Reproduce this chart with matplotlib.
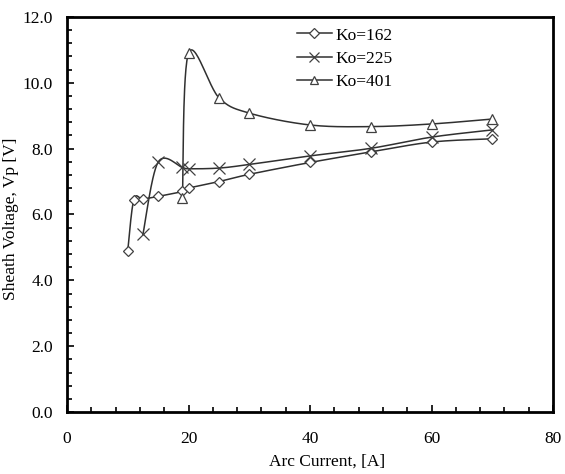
import numpy as np
import matplotlib
matplotlib.use("Agg")
import matplotlib.pyplot as plt
from matplotlib.ticker import MultipleLocator, FormatStrFormatter

plt.rcParams['font.family'] = ['Liberation Serif', 'DejaVu Serif']

# arc current [A] and sheath voltage [V] for each Ko
i_162 = [10, 11, 12.5, 15, 19, 20, 25, 30, 40, 50, 60, 70]
v_162 = [4.9, 6.45, 6.47, 6.55, 6.7, 6.8, 7.0, 7.22, 7.58, 7.9, 8.2, 8.3]

i_225 = [12.5, 15, 19, 20, 25, 30, 40, 50, 60, 70]
v_225 = [5.4, 7.59, 7.43, 7.39, 7.41, 7.52, 7.78, 8.01, 8.35, 8.57]

i_401 = [19, 20, 25, 30, 40, 50, 60, 70]
v_401 = [6.5, 10.9, 9.55, 9.08, 8.72, 8.67, 8.75, 8.9]

labels = ['Ko=162', 'Ko=225', 'Ko=401']
markers = ['D', 'x', '^']
msizes = [5.5, 8, 6.5]

XMAX, YMAX = 80, 12.0
# pixels per data unit, so the smoothing follows the drawn shape
SX, SY = 6.08, 32.9


def smooth(x, y, n=30):
    # cubic bezier through the points with catmull-rom style control points
    p = np.column_stack([np.array(x) * SX, np.array(y) * SY])
    pts = np.vstack([p[0], p, p[-1]])
    out = []
    t = np.linspace(0, 1, n)[:, None]
    for k in range(1, len(pts) - 2):
        p0, p1, p2, p3 = pts[k - 1], pts[k], pts[k + 1], pts[k + 2]
        c1 = p1 + (p2 - p0) / 6
        c2 = p2 - (p3 - p1) / 6
        seg = ((1 - t) ** 3) * p1 + 3 * ((1 - t) ** 2) * t * c1 \
            + 3 * (1 - t) * t ** 2 * c2 + t ** 3 * p2
        out.append(seg)
    out = np.vstack(out)
    return out[:, 0] / SX, out[:, 1] / SY


fig = plt.figure(figsize=(5.65, 4.74), dpi=100)
ax = fig.add_axes([67 / 565, 62 / 474, 486 / 565, 395 / 474])

series = [(i_162, v_162), (i_225, v_225), (i_401, v_401)]
for (x, y), lab, m, ms in zip(series, labels, markers, msizes):
    sx, sy = smooth(x, y)
    ax.plot(sx, sy, color='#303030', lw=1.1, zorder=2)
    ax.plot(x, y, linestyle='none', marker=m, ms=ms, mfc='white',
            mec='#404040', mew=0.9, zorder=3)
    ax.plot([], [], color='#303030', lw=1.1, marker=m, ms=ms * 0.85,
            mfc='white', mec='#404040', mew=0.9, label=lab)

ax.set_xlim(0, XMAX)
ax.set_ylim(0, YMAX)
ax.xaxis.set_major_locator(MultipleLocator(20))
ax.xaxis.set_minor_locator(MultipleLocator(4))
ax.yaxis.set_major_locator(MultipleLocator(2))
ax.yaxis.set_minor_locator(MultipleLocator(0.4))
ax.yaxis.set_major_formatter(FormatStrFormatter('%.1f'))
ax.tick_params(which='both', direction='in', labelsize=12.5, width=1.2,
               colors='black')
ax.tick_params(which='major', length=5)
ax.tick_params(which='minor', length=3.5)
ax.tick_params(axis='x', pad=14)
ax.tick_params(axis='y', pad=10)
for s in ax.spines.values():
    s.set_linewidth(2)

ax.set_xlabel('Arc Current, [A]', fontsize=12.5)
ax.xaxis.set_label_coords(0.535, -0.105)
ax.set_ylabel('Sheath Voltage, Vp [V]', fontsize=12.5)
ax.yaxis.set_label_coords(-0.098, 0.49)

ax.legend(loc='upper left', bbox_to_anchor=(0.452, 1.0), frameon=False,
          fontsize=12.5, handlelength=2.0, handletextpad=0.2,
          labelspacing=0.42, borderaxespad=0.2)

fig.savefig('out.png', dpi=100)
